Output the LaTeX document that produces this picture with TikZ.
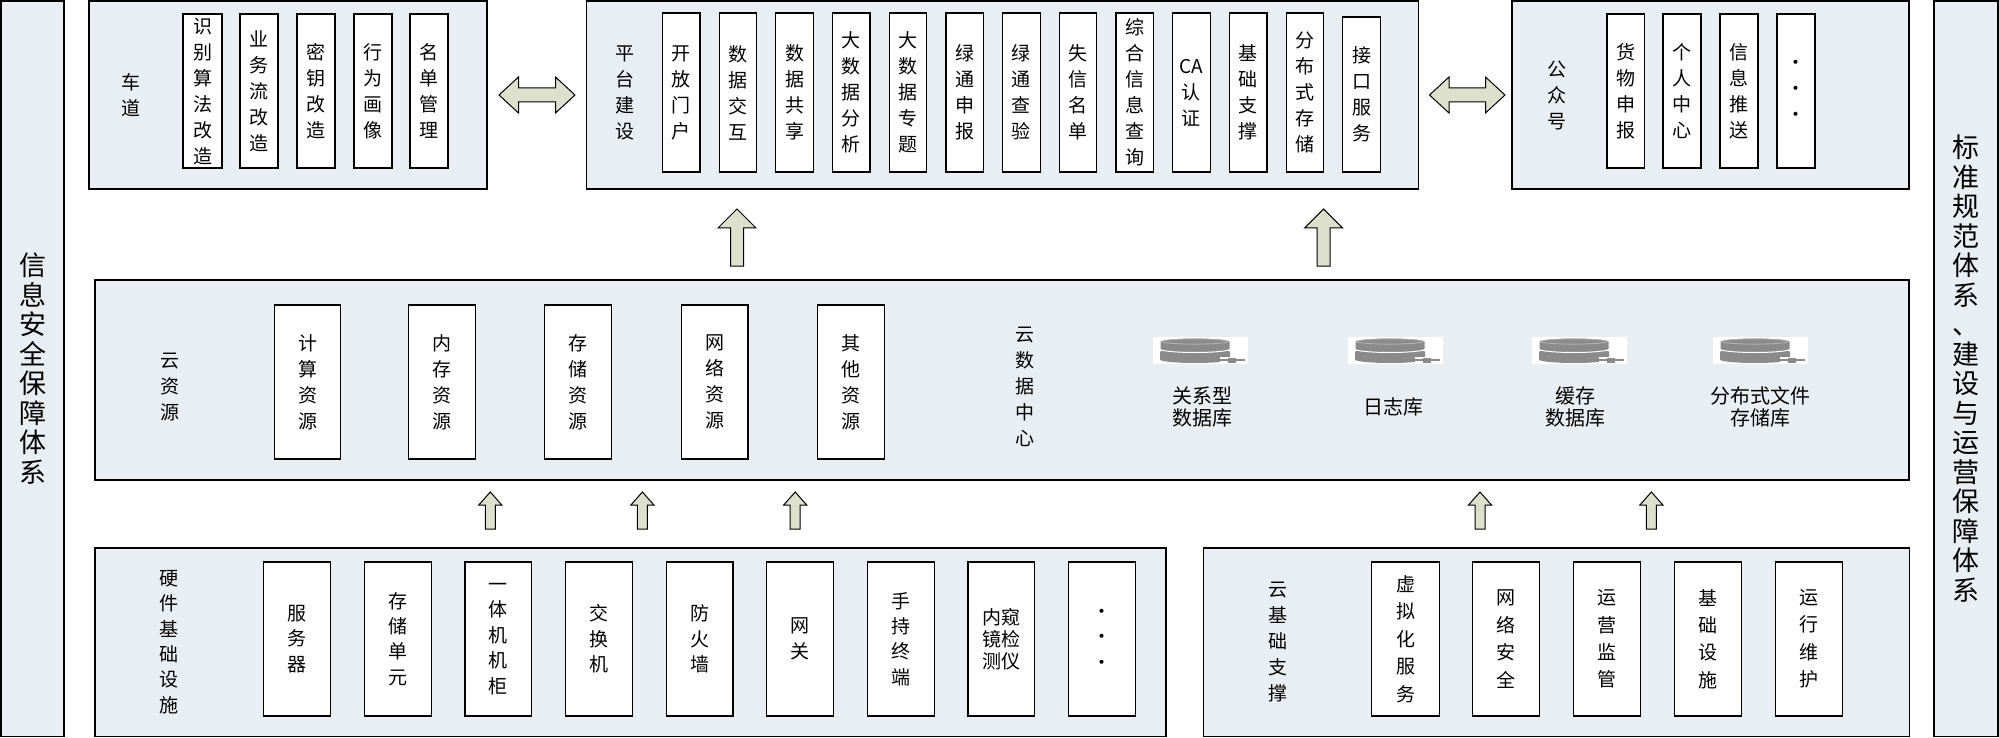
\documentclass[tikz,border=0pt]{standalone}
\usepackage{fontspec}
\setmainfont{Noto Sans CJK SC}
\usetikzlibrary{fit}
\definecolor{panelfill}{RGB}{233,237,244}
\definecolor{arrowfill}{RGB}{221,224,204}
\definecolor{dbgrey}{RGB}{138,138,138}
\definecolor{dbtop}{RGB}{178,178,178}
\tikzset{
  panel/.style={draw=black, fill=panelfill, line width=0.75pt, inner sep=0pt},
  cellbox/.style={draw=black, fill=white, line width=0.6pt, inner sep=0pt},
  sidetext/.style={align=center, inner sep=0pt, font=\fontsize{13.5}{14.75}\selectfont},
  celltext/.style={align=center, inner sep=0pt, font=\fontsize{9.5}{13}\selectfont},
  hwtext/.style={celltext, font=\fontsize{9.5}{12.7}\selectfont},
  basetext/.style={celltext, font=\fontsize{9.5}{13.7}\selectfont},
  tag/.style={align=center, inner sep=0pt, font=\fontsize{9.5}{13}\selectfont},
  dblabel/.style={align=center, inner sep=0pt, font=\fontsize{10}{11}\selectfont},
  dbbg/.style={fill=white, draw=none, inner sep=0pt},
  blockarrow/.style={draw=black, fill=arrowfill, line width=0.5pt, line join=miter},
}
% cell: text style, name, x1, y1, x2, y2, text
\newcommand\Cell[7]{%
  \node[cellbox, fit={(#3,#4) (#5,#6)}] (#2) {};
  \node[#1] (#2t) at (#2.center) {#7};}
% up arrow: cx, ytip, ybase, head half width, shaft half width, head height
\newcommand\UpArr[6]{\draw[blockarrow] (#1,#2) -- ({#1+#4},{#2+#6}) -- ({#1+#5},{#2+#6}) -- ({#1+#5},#3) -- ({#1-#5},#3) -- ({#1-#5},{#2+#6}) -- ({#1-#4},{#2+#6}) -- cycle;}
% double arrow: xl, xr, yc, head half, shaft half, head length
\newcommand\DblArr[6]{\draw[blockarrow] (#1,#3) -- ({#1+#6},{#3-#4}) -- ({#1+#6},{#3-#5}) -- ({#2-#6},{#3-#5}) -- ({#2-#6},{#3-#4}) -- (#2,#3) -- ({#2-#6},{#3+#4}) -- ({#2-#6},{#3+#5}) -- ({#1+#6},{#3+#5}) -- ({#1+#6},{#3+#4}) -- cycle;}
% database icon: name, left, top
\newcommand\DBIcon[3]{%
  \node[dbbg, fit={(#2,#3) ({#2+95},{#3+27})}] (#1) {};
  % lower disk
  \fill[dbgrey] ({#2+7},{#3+15}) -- ({#2+7},{#3+22.5})
     arc [start angle=180, end angle=360, x radius=17.5pt, y radius=1.75pt]
     -- ({#2+77},{#3+15})
     arc [start angle=0, end angle=180, x radius=17.5pt, y radius=1.75pt] -- cycle;
  % upper disk
  \filldraw[fill=dbgrey, draw=white, line width=0.5pt] ({#2+7},{#3+4.5}) -- ({#2+7},{#3+12})
     arc [start angle=180, end angle=360, x radius=17.5pt, y radius=1.75pt]
     -- ({#2+77},{#3+4.5})
     arc [start angle=0, end angle=180, x radius=17.5pt, y radius=1.75pt] -- cycle;
  \draw[dbtop, line width=0.45pt] ({#2+42},{#3+4.5}) ellipse [x radius=16.5pt, y radius=1.3pt];
  % plug
  \fill[white] ({#2+67},{#3+20}) rectangle ({#2+95},{#3+27});
  \draw[dbgrey, line width=0.6pt] ({#2+67},{#3+23}) -- ({#2+92},{#3+23});
  \fill[dbgrey] ({#2+75},{#3+20.5}) rectangle ({#2+83},{#3+25.5});
}
\begin{document}
\begin{tikzpicture}[x=0.5pt, y=-0.5pt]
\useasboundingbox (0,0) rectangle (1999,738);

% side bars
\node[panel, fit={(1,1) (64,736.5)}] (secbar) {};
\node[sidetext] (secbarT) at (secbar.center) {信\\息\\安\\全\\保\\障\\体\\系};
\node[panel, fit={(1934,1) (1998,736.5)}] (stdbar) {};
\node[sidetext] (stdbarT) at (stdbar.center) {标\\准\\规\\范\\体\\系\\、\\建\\设\\与\\运\\营\\保\\障\\体\\系};

% ---- top row ----
\node[panel, fit={(89,1) (487,189)}] (lane) {};
\node[tag] (laneTag) at (131,95) {车\\道};
\Cell{celltext}{l1}{183}{14}{222}{168}{识\\别\\算\\法\\改\\造}
\Cell{celltext}{l2}{240}{14}{278}{168}{业\\务\\流\\改\\造}
\Cell{celltext}{l3}{297}{14}{335}{168}{密\\钥\\改\\造}
\Cell{celltext}{l4}{354}{14}{392}{168}{行\\为\\画\\像}
\Cell{celltext}{l5}{410}{14}{448}{168}{名\\单\\管\\理}

\node[panel, fit={(586.5,1) (1418.5,189)}] (plat) {};
\node[tag] (platTag) at (625,93) {平\\台\\建\\设};
\Cell{celltext}{p1}{662.4}{13}{699.9}{172}{开\\放\\门\\户}
\Cell{celltext}{p2}{719.1}{13}{756.6}{172}{数\\据\\交\\互}
\Cell{celltext}{p3}{775.8}{13}{813.3}{172}{数\\据\\共\\享}
\Cell{celltext}{p4}{832.5}{13}{870}{172}{大\\数\\据\\分\\析}
\Cell{celltext}{p5}{889.2}{13}{926.7}{172}{大\\数\\据\\专\\题}
\Cell{celltext}{p6}{945.9}{13}{983.4}{172}{绿\\通\\申\\报}
\Cell{celltext}{p7}{1002.6}{13}{1040.1}{172}{绿\\通\\查\\验}
\Cell{celltext}{p8}{1059.3}{13}{1096.8}{172}{失\\信\\名\\单}
\Cell{celltext}{p9}{1116}{13}{1153.5}{172}{综\\合\\信\\息\\查\\询}
\Cell{celltext}{p10}{1172.7}{13}{1210.2}{172}{CA\\认\\证}
\Cell{celltext}{p11}{1229.4}{13}{1266.9}{172}{基\\础\\支\\撑}
\Cell{celltext}{p12}{1286.1}{13}{1323.6}{172}{分\\布\\式\\存\\储}
\Cell{celltext}{p13}{1342.8}{17}{1380.3}{172}{接\\口\\服\\务}

\node[panel, fit={(1512,1) (1909,189)}] (pub) {};
\node[tag] (pubTag) at (1557,95) {公\\众\\号};
\Cell{celltext}{u1}{1607}{14}{1644.5}{168}{货\\物\\申\\报}
\Cell{celltext}{u2}{1663}{14}{1701}{168}{个\\人\\中\\心}
\Cell{celltext}{u3}{1720}{14}{1758}{168}{信\\息\\推\\送}
\Cell{celltext}{u4}{1777}{14}{1815}{168}{·\\·\\·}

\DblArr{499}{575}{95}{18}{7}{19.5}
\DblArr{1429.5}{1505}{95}{18}{7}{19.5}

% ---- cloud row ----
\node[panel, fit={(95,280) (1909,480)}] (cloud) {};
\node[tag] (cloudTag) at (170,387) {云\\资\\源};
\Cell{celltext}{r1}{274.5}{305}{340.6}{459}{计\\算\\资\\源}
\Cell{celltext}{r2}{408.5}{305}{475.8}{459}{内\\存\\资\\源}
\Cell{celltext}{r3}{544.8}{305}{611.5}{459}{存\\储\\资\\源}
\Cell{celltext}{r4}{681.8}{305}{747.9}{459}{网\\络\\资\\源}
\Cell{celltext}{r5}{817.6}{305}{884.8}{459}{其\\他\\资\\源}
\node[tag] (dcTag) at (1025,387) {云\\数\\据\\中\\心};

\DBIcon{db1}{1153}{337}
\DBIcon{db2}{1348}{337}
\DBIcon{db3}{1532}{337}
\DBIcon{db4}{1713}{337}
\node[dblabel] (db1t) at (1202,407) {关系型\\数据库};
\node[dblabel] (db2t) at (1393,407) {日志库};
\node[dblabel] (db3t) at (1575,407) {缓存\\数据库};
\node[dblabel] (db4t) at (1760,407) {分布式文件\\存储库};

\UpArr{737}{209}{266}{19}{6.5}{19}
\UpArr{1323.6}{209}{266}{19}{6.5}{19}

% ---- bottom row ----
\node[panel, fit={(95,548) (1166,736.5)}] (hw) {};
\node[tag, font=\fontsize{9.5}{12.7}\selectfont] (hwTag) at (169,642) {硬\\件\\基\\础\\设\\施};
\Cell{hwtext}{h1}{263.8}{562}{330.5}{716}{服\\务\\器}
\Cell{hwtext}{h2}{364.4}{562}{431.1}{716}{存\\储\\单\\元}
\Cell{hwtext}{h3}{465}{562}{531.7}{716}{一\\体\\机\\机\\柜}
\Cell{hwtext}{h4}{565.6}{562}{632.3}{716}{交\\换\\机}
\Cell{hwtext}{h5}{666.2}{562}{732.9}{716}{防\\火\\墙}
\Cell{hwtext}{h6}{766.8}{562}{833.5}{716}{网\\关}
\Cell{hwtext}{h7}{867.4}{562}{934.1}{716}{手\\持\\终\\端}
\Cell{hwtext, font=\fontsize{9.5}{11}\selectfont}{h8}{968}{562}{1034.7}{716}{内窥\\镜检\\测仪}
\Cell{hwtext}{h9}{1068.6}{562}{1135.3}{716}{·\\·\\·}

\node[panel, fit={(1203.5,548) (1909.5,736.5)}] (cb) {};
\node[tag] (cbTag) at (1278,642) {云\\基\\础\\支\\撑};
\Cell{basetext}{b1}{1371.7}{562}{1439.6}{716}{虚\\拟\\化\\服\\务}
\Cell{basetext}{b2}{1472.5}{562}{1539.4}{716}{网\\络\\安\\全}
\Cell{basetext}{b3}{1573.3}{562}{1640.2}{716}{运\\营\\监\\管}
\Cell{basetext}{b4}{1674.6}{562}{1741.5}{716}{基\\础\\设\\施}
\Cell{basetext}{b5}{1775.5}{562}{1842.3}{716}{运\\行\\维\\护}

\UpArr{490.3}{492}{529}{11.5}{5}{13}
\UpArr{642.4}{492}{529}{11.5}{5}{13}
\UpArr{795.2}{492}{529}{11.5}{5}{13}
\UpArr{1480}{492}{529}{11.5}{5}{13}
\UpArr{1651.4}{492}{529}{11.5}{5}{13}
\end{tikzpicture}
\end{document}
